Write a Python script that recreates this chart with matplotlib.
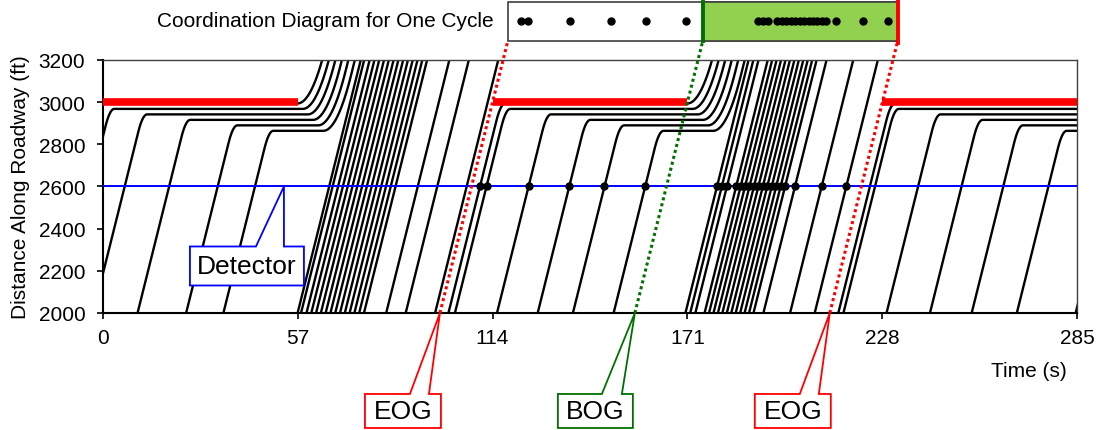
import numpy as np
import matplotlib.pyplot as plt
from matplotlib.patches import Rectangle, Polygon

plt.rcParams['font.family'] = ['Liberation Sans', 'DejaVu Sans']

### signal timing (s)
red_start = [0, 114, 228]
red_end = [57, 171, 285]
green_start = [57, 171, 285]      # queued vehicles of each red leave at these
eog_times = [114, 228]
bog_times = [171]
stop_bar = 3000
detector = 2600

### vehicles : time each one passes 2000 ft (s)
through_veh = [57.0, 58.0, 59.6, 61.0, 62.4, 63.8, 65.2, 66.6, 68.0, 69.4,
               70.8, 72.2, 73.6, 75.0, 76.4, 82.9, 88.6, 97.2,
               170.4, 171.8, 173.3, 176.0, 177.3, 178.6, 179.9, 181.2, 182.5,
               183.8, 185.1, 186.4, 187.7, 189.0, 190.3, 193.2, 201.0, 208.2]
queued_veh = [[-25.0, -12.8, -2.8, 10.2, 24.4, 35.3],
              [101.1, 103.0, 115.3, 127.2, 137.5, 149.4],
              [215.1, 216.6, 229.2, 241.9, 254.1, 267.3, 284.5]]

### vehicle behaviour
v = 65.0        # ft/s
acc = 8.0       # ft/s2
dec = 25.0      # ft/s2
first_stop = 2994
spacing = 26
h_start = 1.5


def through_path(t0):
    t = np.array([t0, t0 + 1300 / v])
    return t, 2000 + v * (t - t0)


def queued_path(t0, y_stop, t_go):
    s_b = v**2 / (2 * dec)
    t_b = t0 + (y_stop - s_b - 2000) / v
    tau = np.linspace(0, v / dec, 15)
    t1 = np.concatenate([[t0], t_b + tau])
    y1 = np.concatenate([[2000], y_stop - s_b + v * tau - 0.5 * dec * tau**2])
    t_go = max(t_go, t1[-1])
    tau2 = np.linspace(0, v / acc, 40)
    t2 = t_go + tau2
    y2 = y_stop + 0.5 * acc * tau2**2
    t3 = [t2[-1] + 300 / v]
    y3 = [y2[-1] + 300]
    return np.concatenate([t1, t2, t3]), np.concatenate([y1, y2, y3])


fig = plt.figure(figsize=(10.97, 4.31), dpi=100)
ax = fig.add_axes([0.0936, 0.2715, 0.8885, 0.587])
ax.set_xlim(0, 285)
ax.set_ylim(2000, 3200)

sec_px = 285 / (0.8885 * 1097)
ft_px = 1200 / (0.587 * 431)

### trajectories
for t0 in through_veh:
    t, y = through_path(t0)
    ax.plot(t, y, color='k', lw=1.7, zorder=2)

for k, cyc in enumerate(queued_veh):
    for i, t0 in enumerate(cyc):
        t, y = queued_path(t0, first_stop - spacing * i, green_start[k] + h_start * i)
        ax.plot(t, y, color='k', lw=1.7, zorder=2, solid_joinstyle='round')

### signal + detector
ax.hlines([stop_bar] * len(red_start), red_start, red_end, color='red', lw=5.5, zorder=4)
ax.axhline(detector, color='blue', lw=1.4, zorder=3)

all_veh = through_veh + [t for c in queued_veh for t in c]
t_det = np.sort(np.array(all_veh) + (detector - 2000) / v)
lag = (stop_bar - detector) / v
t_det = t_det[(t_det >= eog_times[0] - lag) & (t_det < eog_times[1] - lag)]
ax.plot(t_det, [detector] * len(t_det), 'o', color='k', ms=5, zorder=5)

### one-cycle projection
y_bot, y_top, y_dot = 3289, 3477, 3384
shift = (y_bot - stop_bar) / v
for t_s in eog_times:
    ax.plot([t_s - 1000 / v, t_s + shift], [2000, y_bot], color='red', lw=2.2,
            ls=(0, (1, 1)), clip_on=False, zorder=6)
for t_s in bog_times:
    ax.plot([t_s - 1000 / v, t_s + shift], [2000, y_bot], color='#007000', lw=2.2,
            ls=(0, (1, 1)), clip_on=False, zorder=6)

x0 = eog_times[0] + shift
ax.add_patch(Rectangle((x0, y_bot), eog_times[1] - eog_times[0], y_top - y_bot,
                       facecolor='white', edgecolor='#404040', lw=1.2, clip_on=False))
ax.add_patch(Rectangle((bog_times[0] + shift, y_bot), eog_times[1] - bog_times[0],
                       y_top - y_bot, facecolor='#92D050', edgecolor='#404040',
                       lw=1.2, clip_on=False))
ax.plot([bog_times[0] + shift] * 2, [y_bot, y_top], color='#007000', lw=2.8, clip_on=False)
ax.plot([eog_times[1] + shift] * 2, [y_bot - 8, y_top + 8], color='red', lw=2.8,
        clip_on=False)
ax.plot(t_det + (y_dot - detector) / v, [y_dot] * len(t_det), 'o', color='k', ms=5,
        clip_on=False, zorder=7)


### callouts
def callout(tx, ty, box, legs, text, color):
    l, r, top, bot = box
    pts = [(tx + l * sec_px, ty - top * ft_px), (tx + legs[0] * sec_px, ty - top * ft_px),
           (tx, ty), (tx + legs[1] * sec_px, ty - top * ft_px),
           (tx + r * sec_px, ty - top * ft_px), (tx + r * sec_px, ty - bot * ft_px),
           (tx + l * sec_px, ty - bot * ft_px)]
    ax.add_patch(Polygon(pts, closed=True, facecolor='white', edgecolor=color, lw=1.3,
                         clip_on=False, zorder=10))
    ax.text(tx + (l + r) / 2 * sec_px, ty - (top + bot) / 2 * ft_px, text, fontsize=19,
            ha='center', va='center', zorder=11, clip_on=False)


for t_s in eog_times:
    callout(t_s - 1000 / v, 2000, (-75, 1, 81, 115), (-30, -11), 'EOG', 'red')
for t_s in bog_times:
    callout(t_s - 1000 / v, 2000, (-77, -2, 81, 115), (-33, -13), 'BOG', '#007000')
callout(53, detector, (-94, 20, 60, 99), (-28, 0), 'Detector', 'blue')

### axes cosmetics
ax.set_xticks([0, 57, 114, 171, 228, 285])
ax.set_yticks(np.arange(2000, 3201, 200))
ax.tick_params(labelsize=15, length=4.5, width=1.2, direction='out')
ax.tick_params(axis='x', pad=6)
ax.tick_params(axis='y', pad=8)
for s in ['left', 'bottom']:
    ax.spines[s].set_linewidth(1.5)
for s in ['top', 'right']:
    ax.spines[s].set_linewidth(1.0)
    ax.spines[s].set_color('#404040')
ax.set_ylabel('Distance Along Roadway (ft)', fontsize=15, labelpad=6)
fig.text(0.9726, 0.1376, 'Time (s)', fontsize=15, ha='right', va='center')
fig.text(0.4503, 0.949, 'Coordination Diagram for One Cycle', fontsize=15,
         ha='right', va='center')

plt.savefig('out.png', dpi=100)
